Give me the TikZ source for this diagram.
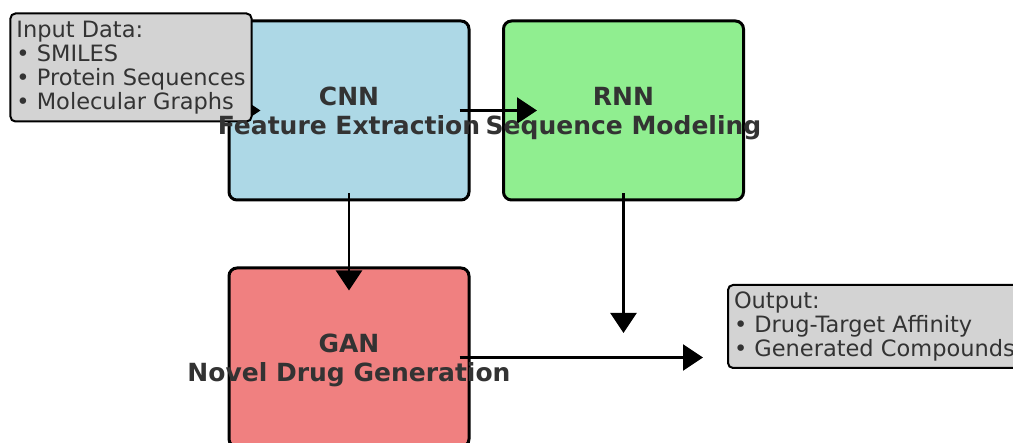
\documentclass[tikz,border=0pt]{standalone}
\usepackage{fontspec}
\setmainfont{DejaVu Sans}
\usetikzlibrary{arrows.meta,calc}
\definecolor{txt}{HTML}{333333}
\definecolor{cnnfill}{HTML}{ADD8E6}
\definecolor{rnnfill}{HTML}{90EE90}
\definecolor{ganfill}{HTML}{F08080}
\definecolor{infill}{HTML}{D3D3D3}
\tikzset{
  stage/.style={draw=black, line width=3pt, rounded corners=8pt, minimum width=240pt, minimum height=179pt, inner sep=0pt},
  stagelabel/.style={text=txt, align=center, font=\fontsize{25}{29}\selectfont\bfseries, inner sep=0pt, yshift=-4pt},
  iobox/.style={draw=black, line width=2pt, rounded corners=5pt, fill=infill, text=txt, align=left,
    font=\fontsize{22.5}{24.2}\selectfont, inner xsep=6pt, inner ysep=0pt},
  flow/.style={line width=2.5pt, -{Triangle[length=20pt,width=26pt]}}
}
\begin{document}
\begin{tikzpicture}[x=1pt,y=-1pt]
\useasboundingbox (0,0) rectangle (1013,443);
\clip (0,0) rectangle (1013,443);
\node[stage, fill=cnnfill] (cnn) at (349,110.5) {};
\node[stage, fill=rnnfill] (rnn) at (623.5,110.5) {};
\node[stage, fill=ganfill] (gan) at (349,357.5) {};
\coordinate (rnnend) at (623.5,333);
% connectors
\draw[flow] (131,110.5) coordinate (instart) (instart) -- ([xshift=33pt]cnn.west);
\draw[flow] ([xshift=-11pt]cnn.east) -- ([xshift=35pt]rnn.west);
\draw[flow] ([yshift=8pt]cnn.south) -- ([yshift=-24pt]gan.north);
\draw[flow] ([yshift=8pt]rnn.south) -- (rnnend);
% input / output boxes
\node[iobox, minimum width=240pt, minimum height=108pt] (inp) at (131,67.5)
  {Input Data:\\• SMILES\\• Protein Sequences\\• Molecular Graphs};
\node[iobox, anchor=west, minimum height=83pt] (out) at (727,326.5)
  {Output:\\• Drug-Target Affinity\\• Generated Compounds};
\draw[flow] ([xshift=-11pt]gan.east) -- ([xshift=-24pt]out.west |- gan.east);
% labels
\node[stagelabel] (cnnlabel) at (cnn.center) {\strut CNN\\Feature Extraction\strut};
\node[stagelabel] (rnnlabel) at (rnn.center) {\strut RNN\\Sequence Modeling\strut};
\node[stagelabel] (ganlabel) at (gan.center) {\strut GAN\\Novel Drug Generation\strut};
\end{tikzpicture}
\end{document}
